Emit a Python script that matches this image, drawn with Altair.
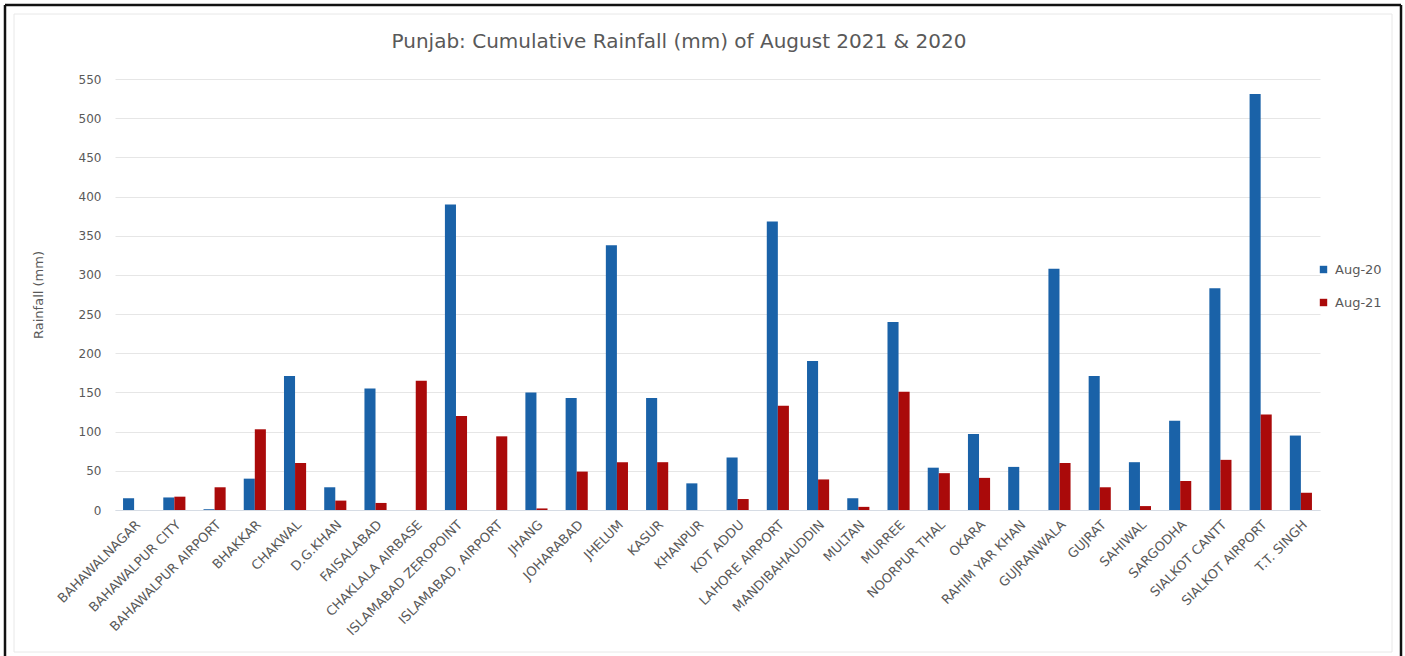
import altair as alt
import pandas as pd

# Stations in display order
stations = [
    "BAHAWALNAGAR", "BAHAWALPUR CITY", "BAHAWALPUR AIRPORT", "BHAKKAR", "CHAKWAL",
    "D.G.KHAN", "FAISALABAD", "CHAKLALA AIRBASE", "ISLAMABAD ZEROPOINT", "ISLAMABAD, AIRPORT",
    "JHANG", "JOHARABAD", "JHELUM", "KASUR", "KHANPUR",
    "KOT ADDU", "LAHORE AIRPORT", "MANDIBAHAUDDIN", "MULTAN", "MURREE",
    "NOORPUR THAL", "OKARA", "RAHIM YAR KHAN", "GUJRANWALA", "GUJRAT",
    "SAHIWAL", "SARGODHA", "SIALKOT CANTT", "SIALKOT AIRPORT", "T.T. SINGH",
]

# Cumulative August rainfall (mm)
aug20 = [15, 16, 1, 40, 171, 29, 155, 0, 390, 0,
         150, 143, 338, 143, 34, 67, 368, 190, 15, 240,
         54, 97, 55, 308, 171, 61, 114, 283, 531, 95]
aug21 = [0, 17, 29, 103, 60, 12, 9, 165, 120, 94,
         2, 49, 61, 61, 0, 14, 133, 39, 4, 151,
         47, 41, 0, 60, 29, 5, 37, 64, 122, 22]

series_names = ["Aug-20", "Aug-21"]
series_colors = ["#1A62A8", "#AA0A0A"]
y_ticks = list(range(0, 551, 50))
chart_title = "Punjab: Cumulative Rainfall (mm) of August 2021 & 2020"

rows = []
for name, a, b in zip(stations, aug20, aug21):
    rows.append({"station": name, "series": "Aug-20", "rain": a})
    rows.append({"station": name, "series": "Aug-21", "rain": b})
df = pd.DataFrame(rows)

FONT = "DejaVu Sans"
TXT = "#595959"

PW, PH = 1205, 431
PAD = {"left": 115, "top": 79, "right": 85, "bottom": 146}

bars = alt.Chart(df).mark_bar().encode(
    x=alt.X(
        "station:N",
        sort=stations,
        scale=alt.Scale(paddingInner=0.45),
        axis=alt.Axis(
            title=None, labelAngle=-45, ticks=False, labelPadding=8,
            labelFontSize=13, labelColor=TXT, labelFont=FONT,
            domainColor="#D6DCE4", grid=False,
        ),
    ),
    xOffset=alt.XOffset("series:N", sort=series_names),
    y=alt.Y(
        "rain:Q",
        scale=alt.Scale(domain=[0, 550], nice=False),
        axis=alt.Axis(
            title="Rainfall (mm)", values=y_ticks, ticks=False, domain=False,
            labelPadding=14, labelFontSize=12, labelColor=TXT, labelFont=FONT,
            gridColor="#E6E6E6", gridWidth=1,
            titleFontSize=13, titleColor=TXT, titleFont=FONT, titleFontWeight="normal",
            titleX=-77, titleY=PH / 2, titleBaseline="middle",
        ),
    ),
    color=alt.Color(
        "series:N",
        scale=alt.Scale(domain=series_names, range=series_colors),
        legend=alt.Legend(
            title=None, orient="none", legendX=1202, legendY=184,
            symbolType="square", symbolSize=55, symbolStrokeWidth=0,
            labelFontSize=13, labelColor=TXT, labelFont=FONT,
            rowPadding=19, symbolOffset=0, labelOffset=5,
        ),
    ),
)

one = alt.Data(values=[{}])

# Chart heading, centred over the chart area
heading = alt.Chart(one).mark_text(
    font=FONT, fontSize=20, color=TXT, align="center", baseline="alphabetic"
).encode(x=alt.value(564), y=alt.value(-31), text=alt.value(chart_title))

# Outer frame: dark border on left, top and right, light inner border
frame_dark = alt.layer(
    alt.Chart(one).mark_rule(color="#111111", strokeWidth=2.5).encode(
        x=alt.value(-110), y=alt.value(-74), y2=alt.value(PH + PAD["bottom"])),
    alt.Chart(one).mark_rule(color="#111111", strokeWidth=2.5).encode(
        x=alt.value(-110), x2=alt.value(1286), y=alt.value(-74)),
    alt.Chart(one).mark_rule(color="#111111", strokeWidth=2.5).encode(
        x=alt.value(1286), y=alt.value(-74), y2=alt.value(PH + PAD["bottom"])),
)
frame_light = alt.Chart(one).mark_rect(
    fill=None, stroke="#E8E8E8", strokeWidth=1
).encode(
    x=alt.value(-101), x2=alt.value(1277), y=alt.value(-65), y2=alt.value(573)
)

chart = alt.layer(frame_light, bars, heading, frame_dark).properties(
    width=PW,
    height=PH,
    padding=PAD,
    autosize=alt.AutoSizeParams(type="none"),
    background="white",
).configure_view(stroke=None)

chart.save("out.html", embed_options={"renderer": "svg", "actions": False})
